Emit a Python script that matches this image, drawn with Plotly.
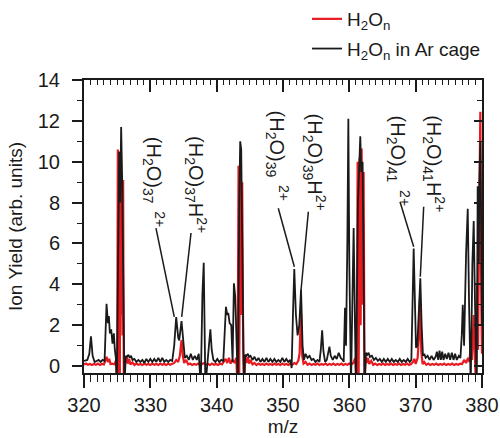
import plotly.graph_objects as go

# ---------------- data ----------------
black_mz = [320.0, 320.5, 320.8, 321.05, 321.3, 321.6, 321.9, 322.2, 322.5, 322.8, 323.1, 323.25, 323.4, 323.6,
            323.75, 323.9, 324.1, 324.3, 324.5, 324.65, 324.8, 324.95, 325.1, 325.3, 325.45, 325.6, 325.75, 325.9,
            326.1, 326.3, 326.5, 326.7, 326.9, 327.1, 327.3, 327.6, 327.9, 328.2, 328.5, 328.8, 329.1, 329.4, 329.7,
            330.0, 330.3, 330.6, 330.9, 331.2, 331.5, 331.8, 332.1, 332.4, 332.7, 333.0, 333.3, 333.6, 333.9, 334.2,
            334.35, 334.7, 334.95, 335.2, 335.5, 335.8, 336.1, 336.4, 336.7, 337.0, 337.3, 337.6, 337.85, 338.05,
            338.3, 338.6, 338.85, 339.05, 339.25, 339.5, 339.8, 340.1, 340.4, 340.7, 341.0, 341.2, 341.4, 341.6,
            341.75, 341.95, 342.2, 342.4, 342.6, 342.8, 343.0, 343.2, 343.4, 343.55, 343.7, 343.85, 344.1, 344.3,
            344.5, 344.7, 344.9, 345.1, 345.4, 345.7, 346.0, 346.3, 346.6, 346.9, 347.2, 347.5, 347.8, 348.1, 348.4,
            348.7, 349.0, 349.3, 349.6, 349.9, 350.2, 350.5, 350.8, 351.1, 351.3, 351.5, 351.7, 351.95, 352.2,
            352.45, 352.72, 352.95, 353.15, 353.4, 353.7, 354.0, 354.3, 354.6, 354.9, 355.2, 355.5, 355.7, 355.9,
            356.1, 356.35, 356.6, 356.8, 357.0, 357.2, 357.5, 357.8, 358.1, 358.4, 358.7, 359.0, 359.15, 359.35,
            359.5, 359.7, 359.85, 360.0, 360.25, 360.45, 360.65, 360.85, 361.0, 361.3, 361.5, 361.65, 361.8, 362.0,
            362.15, 362.3, 362.5, 362.7, 362.9, 363.1, 363.4, 363.7, 364.0, 364.3, 364.6, 364.9, 365.2, 365.5,
            365.8, 366.1, 366.4, 366.7, 367.0, 367.3, 367.6, 367.9, 368.2, 368.5, 368.8, 369.1, 369.35, 369.55,
            369.7, 369.9, 370.05, 370.25, 370.45, 370.7, 370.9, 371.1, 371.3, 371.5, 371.8, 372.1, 372.4, 372.7,
            373.0, 373.2, 373.4, 373.6, 373.8, 374.0, 374.2, 374.45, 374.7, 374.95, 375.2, 375.45, 375.7, 375.95,
            376.2, 376.5, 376.75, 376.95, 377.1, 377.3, 377.6, 377.85, 378.05, 378.3, 378.55, 378.75, 378.95,
            379.2, 379.35, 379.5, 379.6, 379.75, 379.9, 380.0]
black_y = [0.25, 0.3, 0.6, 1.45, 0.5, 0.2, 0.25, 0.3, 0.2, 0.3, 0.25, 1.5, 3.05, 2.1,
           2.45, 1.6, 1.8, 1.1, 1.6, 0.8, 0.4, -1, 5, 10.5, 8, 11.7, 9.2, 4,
           -1, 0.5, 0.45, 0.55, 0.4, 0.5, 0.3, 0.35, 0.2, 0.3, 0.2, 0.3, 0.15, 0.35, 0.2,
           0.35, 0.2, 0.35, 0.2, 0.4, 0.2, 0.4, 0.2, 0.3, 0.2, 0.3, 0.25, 1.0, 2.4, 1.4,
           1.25, 2.2, 1.2, 0.4, 0.5, 0.3, 0.6, 0.3, 0.5, 0.3, 0.6, -1, 3.5, 5.05,
           -1, 0.3, 0.9, 1.8, 0.8, 0.3, 0.2, 0.35, 0.2, 0.3, 0.25, 1.5, 2.9, 2.5,
           2.6, 2.1, 2.0, 0.2, 4.05, 3.4, 1.0, -1, 8, 11.0, 10.6, 6, -1, 0.55,
           0.5, 0.6, 0.45, 0.5, 0.3, 0.45, 0.25, 0.4, 0.2, 0.35, 0.2, 0.4, 0.2, 0.35, 0.2,
           0.35, 0.2, 0.3, 0.2, 0.4, 0.2, 0.35, 0.2, 0.3, -0.1, 2.5, 4.75, 2.5, 1.5,
           2.0, 3.75, 1.0, 0.3, 0.6, 0.4, 0.5, 0.3, 0.35, 0.2, 0.3, 0.2, 0.8, 1.75,
           0.7, 0.2, 0.3, 0.6, 0.95, 0.5, 0.3, 0.5, 0.35, 0.65, 0.4, 0.3, 0.2, 2.85,
           1.0, 6, 12.1, 5, -1, 3, 6.75, 2.0, -1, 8, 10.5, 11.25, 9.5, 10.0,
           5, -1, 0.65, 0.55, 0.65, 0.45, 0.5, 0.3, 0.4, 0.25, 0.35, 0.2, 0.35, 0.2,
           0.35, 0.2, 0.35, 0.2, 0.3, 0.2, 0.35, 0.2, 0.3, 0.2, 0.35, 0.2, 0.3, 3,
           5.75, 3, 0.9, 1.0, 2.5, 4.3, 2.0, 0.5, 0.6, 0.4, 0.5, 0.3, 0.5, 0.3,
           0.45, 0.7, 0.3, 0.75, 0.3, 0.7, 0.3, 0.6, 0.35, 0.65, 0.3, 0.65, 0.3, 0.6,
           0.3, 0.5, 0.4, 1.5, 3.0, 1.0, 5.5, 7.7, 3.0, -1, 5.0, 7.1, 3.0,
           -1, 8.8, 5, 9.0, 11.0, 6, 2]

red_mz = [320.0, 320.3, 320.6, 320.9, 321.2, 321.5, 321.8, 322.1, 322.4, 322.7, 323.0, 323.2, 323.4, 323.6,
          323.8, 324.0, 324.3, 324.6, 324.85, 325.0, 325.1, 325.2, 325.3, 325.4, 325.5, 325.6, 325.7, 325.8,
          325.9, 326.0, 326.15, 326.3, 326.45, 326.6, 326.8, 327.0, 327.3, 327.6, 327.9, 328.2, 328.5, 328.8,
          329.1, 329.4, 329.7, 330.0, 330.3, 330.6, 330.9, 331.2, 331.5, 331.8, 332.1, 332.4, 332.7, 333.0,
          333.3, 333.6, 333.9, 334.2, 334.45, 334.7, 334.9, 335.1, 335.4, 335.7, 336.0, 336.3, 336.6, 336.9,
          337.2, 337.5, 337.8, 338.1, 338.4, 338.7, 339.0, 339.3, 339.6, 339.9, 340.2, 340.5, 340.8, 341.1,
          341.35, 341.6, 341.85, 342.1, 342.4, 342.7, 342.95, 343.15, 343.3, 343.4, 343.55, 343.7, 343.85,
          344.0, 344.15, 344.3, 344.5, 344.7, 344.9, 345.1, 345.4, 345.7, 346.0, 346.3, 346.6, 346.9, 347.2,
          347.5, 347.8, 348.1, 348.4, 348.7, 349.0, 349.3, 349.6, 349.9, 350.2, 350.5, 350.8, 351.1, 351.4,
          351.7, 352.0, 352.3, 352.5, 352.7, 352.9, 353.1, 353.4, 353.7, 354.0, 354.3, 354.6, 354.9, 355.2,
          355.5, 355.8, 356.1, 356.4, 356.7, 357.0, 357.3, 357.6, 357.9, 358.2, 358.5, 358.8, 359.1, 359.4,
          359.7, 360.0, 360.3, 360.6, 360.9, 361.1, 361.25, 361.4, 361.55, 361.7, 361.85, 362.0, 362.15,
          362.3, 362.45, 362.6, 362.8, 363.0, 363.3, 363.6, 363.9, 364.2, 364.5, 364.8, 365.1, 365.4, 365.7,
          366.0, 366.3, 366.6, 366.9, 367.2, 367.5, 367.8, 368.1, 368.4, 368.7, 369.0, 369.3, 369.6, 369.8,
          370.0, 370.3, 370.5, 370.65, 370.85, 371.05, 371.3, 371.6, 371.9, 372.2, 372.5, 372.8, 373.1, 373.4,
          373.7, 374.0, 374.3, 374.6, 374.9, 375.2, 375.5, 375.8, 376.1, 376.4, 376.7, 377.0, 377.3, 377.6,
          377.9, 378.1, 378.3, 378.5, 378.75, 378.95, 379.1, 379.25, 379.4, 379.6, 379.75, 379.9, 380.0]
red_y = [0.08, 0.12, 0.06, 0.1, 0.05, 0.1, 0.06, 0.12, 0.05, 0.1, 0.08, 0.3, 0.45, 0.2,
         0.35, 0.1, 0.12, 0.08, 0.3, -1, 10.6, -1, 9.6, -0.5, 10.2, 2.5, 8.8, 1.5,
         9.1, -1, 0.45, 0.15, 0.4, 0.12, 0.35, 0.08, 0.18, 0.05, 0.12, 0.06, 0.1, 0.05,
         0.12, 0.06, 0.1, 0.05, 0.12, 0.06, 0.1, 0.05, 0.12, 0.06, 0.1, 0.05, 0.12, 0.06,
         0.1, 0.15, 0.3, 0.2, 0.5, 1.27, 0.5, 0.15, 0.3, 0.08, 0.12, 0.05, 0.1, 0.06,
         0.12, 0.05, 0.1, 0.15, 0.06, 0.1, 0.05, 0.12, 0.06, 0.1, 0.05, 0.12, 0.08, 0.2,
         0.35, 0.15, 0.4, 0.12, 0.3, 0.15, 0.4, -1, 9.8, -0.5, 9.9, 2.5, 9.0,
         0.8, -1, 0.45, 0.15, 0.45, 0.12, 0.3, 0.08, 0.15, 0.05, 0.12, 0.06, 0.1, 0.05,
         0.12, 0.06, 0.1, 0.05, 0.12, 0.06, 0.1, 0.05, 0.12, 0.06, 0.1, 0.05, 0.12, 0.06,
         0.15, 0.1, 0.25, 0.6, 2.65, 0.5, 0.12, 0.2, 0.06, 0.12, 0.05, 0.1, 0.06, 0.12,
         0.05, 0.1, 0.06, 0.12, 0.05, 0.1, 0.06, 0.12, 0.05, 0.1, 0.06, 0.12, 0.05, 0.1,
         0.06, 0.12, 0.08, 0.15, 0.4, -1, 10.0, -0.5, 10.2, 2, 10.65, 3, 9.5,
         -1, 0.45, 0.15, 0.4, 0.1, 0.25, 0.06, 0.12, 0.05, 0.1, 0.06, 0.12, 0.05, 0.1,
         0.06, 0.12, 0.05, 0.1, 0.06, 0.12, 0.05, 0.1, 0.06, 0.12, 0.05, 0.1, 0.2, 0.35,
         0.1, 0.4, 1.5, 3.3, 0.7, 0.1, 0.2, 0.06, 0.12, 0.05, 0.1, 0.06, 0.12, 0.05,
         0.1, 0.06, 0.12, 0.05, 0.1, 0.06, 0.12, 0.05, 0.1, 0.06, 0.12, 0.1, 0.3, 0.15,
         0.4, 0.2, 1.0, 0.3, 2.5, 0.3, -1, 4.0, 0.8, 8.0, 12.45, 3.0, 0.6]

x_ticks = [320, 330, 340, 350, 360, 370, 380]
y_ticks = [0, 2, 4, 6, 8, 10, 12, 14]

# peak labels: text, text centre (mz, y), leader line start (mz, y), leader line end (mz, y)
label_texts = ["(H<sub>2</sub>O)<sub>37</sub><sup>  2+</sup>", "(H<sub>2</sub>O)<sub>37</sub>H<sup>2+</sup>",
               "(H<sub>2</sub>O)<sub>39</sub><sup>  2+</sup>", "(H<sub>2</sub>O)<sub>39</sub>H<sup>2+</sup>",
               "(H<sub>2</sub>O)<sub>41</sub><sup>  2+</sup>", "(H<sub>2</sub>O)<sub>41</sub>H<sup>2+</sup>"]
label_mz = [330.6, 336.9, 349.1, 354.7, 367.35, 372.7]
label_y = [9.0, 8.9, 10.3, 10.0, 10.05, 9.9]
line_mz0 = [330.85, 336.13, 349.29, 353.82, 367.64, 371.21]
line_y0 = [6.75, 6.51, 7.72, 7.55, 8.04, 7.8]
line_mz1 = [333.61, 334.73, 351.71, 352.72, 369.7, 370.7]
line_y1 = [2.41, 2.41, 4.86, 3.72, 5.84, 4.37]

FONT = "Arial, Liberation Sans, sans-serif"
INK = "#1a1a1a"

fig = go.Figure()
fig.add_trace(go.Scatter(x=red_mz, y=red_y, mode="lines", name="H<sub>2</sub>O<sub>n</sub>",
                         legendgroup="a", line=dict(color="#e8191f", width=2.2)))
fig.add_trace(go.Scatter(x=black_mz, y=black_y, mode="lines", name="H<sub>2</sub>O<sub>n</sub> in Ar cage",
                         legendgroup="b", line=dict(color=INK, width=1.8)))
# empty trace to carry the mirrored (top/right) axes
fig.add_trace(go.Scatter(x=[], y=[], xaxis="x2", yaxis="y2", showlegend=False, hoverinfo="skip"))

for i in range(len(label_texts)):
    fig.add_annotation(x=label_mz[i], y=label_y[i], text=label_texts[i], textangle=90, showarrow=False,
                       xref="x", yref="y", font=dict(size=20, color=INK, family=FONT))
    fig.add_shape(type="line", xref="x", yref="y", x0=line_mz0[i], y0=line_y0[i], x1=line_mz1[i], y1=line_y1[i],
                  line=dict(color=INK, width=1.5))

fig.update_layout(
    width=500, height=438,
    margin=dict(l=84, r=18, t=80, b=65, autoexpand=False),
    paper_bgcolor="white", plot_bgcolor="white",
    font=dict(family=FONT, size=20, color=INK),
    showlegend=True,
    legend=dict(xref="container", yref="container", x=0.614, xanchor="left", y=1.005, yanchor="top",
                bgcolor="rgba(0,0,0,0)", font=dict(size=19, family=FONT), itemwidth=30, tracegroupgap=2),
    xaxis=dict(range=[320, 380], tickvals=x_ticks, ticks="outside", ticklen=13, tickwidth=1.5,
               showline=True, linewidth=2, linecolor=INK, tickcolor=INK, showgrid=False,
               zeroline=False, ticklabelstandoff=0, automargin=False, tickfont=dict(size=20),
               minor=dict(dtick=1, ticks="outside", ticklen=7, tickwidth=1.2, tickcolor=INK, showgrid=False),
               title=dict(text="m/z", standoff=4, font=dict(size=19))),
    yaxis=dict(range=[-0.34, 14], tickvals=y_ticks, ticks="outside", ticklen=10, tickwidth=1.5,
               showline=True, linewidth=2, linecolor=INK, tickcolor=INK, showgrid=False,
               zeroline=False, ticklabelstandoff=8, automargin=False, tickfont=dict(size=20),
               minor=dict(dtick=1, tick0=0, ticks="outside", ticklen=5, tickwidth=1.2, tickcolor=INK,
                          showgrid=False),
               title=dict(text="Ion Yield (arb. units)", standoff=10, font=dict(size=19))),
    xaxis2=dict(range=[320, 380], overlaying="x", side="top", anchor="y2", tickvals=x_ticks, ticks="inside",
                ticklen=12, tickwidth=1.5, showticklabels=False, showline=True, linewidth=2,
                linecolor=INK, tickcolor=INK, showgrid=False, zeroline=False, automargin=False,
                minor=dict(dtick=1, ticks="inside", ticklen=5, tickwidth=1.2, tickcolor=INK, showgrid=False)),
    yaxis2=dict(range=[-0.34, 14], overlaying="y", side="right", anchor="x2", tickvals=y_ticks, ticks="inside",
                ticklen=8, tickwidth=1.5, showticklabels=False, showline=True, linewidth=2,
                linecolor=INK, tickcolor=INK, showgrid=False, zeroline=False, automargin=False,
                minor=dict(dtick=1, tick0=0, ticks="inside", ticklen=5, tickwidth=1.2, tickcolor=INK,
                           showgrid=False)),
)

# remove the browser's default 8px page margin so the 500x438 figure fills the window exactly
fig.write_html("out.html", config={"displayModeBar": False},
               post_script="document.body.style.margin='0';document.body.style.overflow='hidden';"
                           "document.documentElement.style.overflow='hidden';")
